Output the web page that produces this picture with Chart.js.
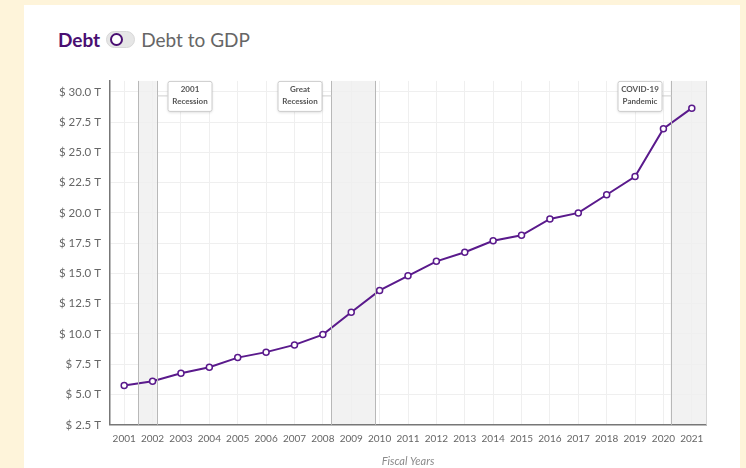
<!DOCTYPE html>
<html>
<head>
<meta charset="utf-8">
<script src="https://cdn.jsdelivr.net/npm/chart.js@4"></script>
<style>
  html, body { margin: 0; padding: 0; }
  body { width: 746px; height: 468px; background: #fef4da; overflow: hidden; font-family: Lato, "Open Sans", sans-serif; }
  .card { position: absolute; left: 24px; top: 5px; width: 716px; height: 463px; background: #fff; }
  .head { position: absolute; left: 58px; top: 26px; height: 26px; display: flex; align-items: center; font-size: 19px; }
  .debt { color: #4a0f72; font-weight: bold; }
  .toggle { width: 27px; height: 15px; margin: 0 6px 0 6px; border-radius: 9px; background: #e6e6e6; border: 1px solid #d8d8d8; position: relative; }
  .toggle span { position: absolute; left: 3px; top: 1px; width: 9px; height: 9px; border-radius: 50%; border: 2px solid #4a0f72; background: #fff; }
  .gdp { color: #666; }
  .wrap { position: absolute; left: 40px; top: 65px; width: 690px; height: 403px; }
</style>
</head>
<body>
<div class="card"></div>
<div class="head"><span class="debt">Debt</span><div class="toggle"><span></span></div><span class="gdp">Debt to GDP</span></div>
<div class="wrap"><canvas id="debtChart"></canvas></div>
<script>
// fiscal years and total debt (trillions)
const years = ["2001","2002","2003","2004","2005","2006","2007","2008","2009","2010","2011",
               "2012","2013","2014","2015","2016","2017","2018","2019","2020","2021"];
const debt = [5.75, 6.1, 6.75, 7.25, 8.05, 8.5, 9.1, 9.95, 11.8, 13.6, 14.8,
              16.0, 16.75, 17.7, 18.15, 19.5, 20.0, 21.5, 23.0, 26.95, 28.65];

// recession bands (fractional year on x axis)
const bandStart = [2001.5, 2008.3, 2020.25];
const bandEnd = [2002.15, 2009.85, 2021.5];
const bandLabel = [["2001", "Recession"], ["Great", "Recession"], ["COVID-19", "Pandemic"]];
const bandSide = ["right", "left", "left"];

const yMin = 2.5, yMax = 30.9, yStep = 2.5;

const purple = "#5a1a8c";

const bandsPlugin = {
  id: "bands",
  beforeDraw(chart) {
    const { ctx, chartArea: a, scales: { x } } = chart;
    const toPx = yr => x.getPixelForValue(yr - 2001);
    ctx.save();
    bandStart.forEach((s, i) => {
      const x1 = toPx(s), x2 = Math.min(toPx(bandEnd[i]), a.right);
      ctx.fillStyle = "#f2f2f2";
      ctx.fillRect(x1, a.top, x2 - x1, a.bottom - a.top);
    });
    ctx.restore();
  },
  afterDatasetsDraw(chart) {
    const { ctx, chartArea: a, scales: { x } } = chart;
    const toPx = yr => x.getPixelForValue(yr - 2001);
    ctx.save();
    // right border
    ctx.strokeStyle = "#d6d6d6";
    ctx.lineWidth = 1;
    ctx.beginPath();
    ctx.moveTo(Math.round(a.right) + 0.5, a.top);
    ctx.lineTo(Math.round(a.right) + 0.5, a.bottom);
    ctx.stroke();
    bandStart.forEach((s, i) => {
      const x1 = Math.round(toPx(s)) + 0.5;
      const x2 = Math.round(Math.min(toPx(bandEnd[i]), a.right)) + 0.5;
      ctx.strokeStyle = "#b8b8b8";
      ctx.beginPath();
      ctx.moveTo(x1, a.top); ctx.lineTo(x1, a.bottom);
      if (x2 < a.right) { ctx.moveTo(x2, a.top); ctx.lineTo(x2, a.bottom); }
      ctx.stroke();

      // label box
      const w = 44, h = 30, gap = 10, cy = a.top + 15;
      const bx = bandSide[i] === "right" ? x2 + gap : x1 - gap - w;
      const by = a.top;
      ctx.strokeStyle = "#cfcfcf";
      ctx.beginPath();
      if (bandSide[i] === "right") { ctx.moveTo(x2, cy); ctx.lineTo(bx, cy); }
      else { ctx.moveTo(bx + w, cy); ctx.lineTo(x1, cy); }
      ctx.stroke();
      ctx.shadowColor = "rgba(0,0,0,0.15)";
      ctx.shadowBlur = 3;
      ctx.shadowOffsetY = 1;
      ctx.fillStyle = "#fff";
      ctx.beginPath();
      ctx.roundRect(bx + 0.5, by + 0.5, w, h, 2);
      ctx.fill();
      ctx.shadowColor = "transparent";
      ctx.strokeStyle = "#cccccc";
      ctx.stroke();
      ctx.fillStyle = "#555";
      ctx.font = "bold 8px Lato, sans-serif";
      ctx.textAlign = "center";
      ctx.textBaseline = "middle";
      ctx.fillText(bandLabel[i][0], bx + w / 2 + 0.5, by + 9);
      ctx.fillText(bandLabel[i][1], bx + w / 2 + 0.5, by + 21);
    });
    ctx.restore();
  }
};

new Chart(document.getElementById("debtChart").getContext("2d"), {
  type: "line",
  data: {
    labels: years,
    datasets: [{
      label: "Debt",
      data: debt,
      borderColor: purple,
      borderWidth: 2,
      pointRadius: 3,
      pointBorderWidth: 1.5,
      pointBackgroundColor: "#fff",
      pointBorderColor: purple,
      tension: 0
    }]
  },
  options: {
    responsive: true,
    maintainAspectRatio: false,
    animation: false,
    layout: { padding: { top: 4, right: 24, bottom: 0, left: 0 } },
    plugins: { legend: { display: false }, tooltip: { enabled: false } },
    scales: {
      x: {
        offset: true,
        grid: { offset: false, color: "#efefef", drawTicks: false },
        border: { color: "#777", width: 1.5 },
        ticks: { color: "#666", font: { family: "Lato", size: 10 }, padding: 8, maxRotation: 0, autoSkip: false },
        title: { display: true, text: "Fiscal Years", color: "#8a8a8a", font: { family: "Lato", size: 11, style: "italic" }, padding: { top: 2, bottom: 0 } }
      },
      y: {
        min: yMin,
        max: yMax,
        afterFit: s => { s.width = 70; },
        grid: { color: "#efefef", drawTicks: false },
        border: { color: "#777", width: 1.5 },
        ticks: {
          stepSize: yStep,
          includeBounds: false,
          color: "#666",
          padding: 9,
          font: { family: "Lato", size: 11.5 },
          callback: v => "$ " + v.toFixed(1) + " T"
        }
      }
    }
  },
  plugins: [bandsPlugin]
});
</script>
</body>
</html>
